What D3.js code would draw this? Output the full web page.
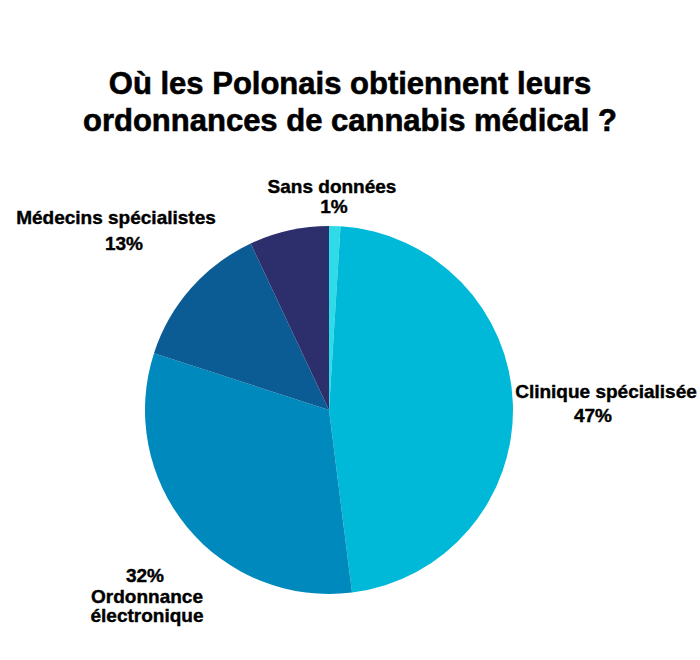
<!DOCTYPE html>
<html><head><meta charset="utf-8">
<script src="https://cdn.jsdelivr.net/npm/d3@7"></script>
<style>body{margin:0;background:#fff}svg{display:block}</style>
</head><body>
<svg id="c" width="700" height="660"></svg>
<script>
const categories = ["Sans données", "Clinique spécialisée", "Ordonnance électronique", "Médecins spécialistes", "Autre"];
const values = [1, 47, 32, 13, 7];
const colors = ["#30dbe8", "#00b9d9", "#0089bd", "#0b5b95", "#2c2f6c"];
const titleLines = ["Où les Polonais obtiennent leurs", "ordonnances de cannabis médical ?"];

const svg = d3.select("#c");
const font = "'Liberation Sans', Arial, sans-serif";
const cx = 329, cy = 410, r = 184;

svg.append("g").selectAll("text").data(titleLines).join("text")
  .attr("x", 350).attr("y", (d, i) => 94 + i * 37)
  .attr("text-anchor", "middle")
  .style("font-family", font).style("font-weight", "bold").style("font-size", "31px")
  .attr("fill", "#000").attr("stroke", "#000").attr("stroke-width", 0.6).text(d => d);

const pie = d3.pie().sort(null).value(d => d)(values);
const arc = d3.arc().innerRadius(0).outerRadius(r);
svg.append("g").attr("transform", `translate(${cx},${cy})`)
  .selectAll("path").data(pie).join("path")
  .attr("d", arc).attr("fill", (d, i) => colors[i]);

const labels = [
  {lines: [[categories[0], 332, 193], [values[0] + "%", 334, 213]]},
  {lines: [[categories[1], 606, 398], [values[1] + "%", 593, 422]]},
  {lines: [[values[2] + "%", 145, 582], ["Ordonnance", 147, 603], ["électronique", 147, 622]]},
  {lines: [[categories[3], 116, 224], [values[3] + "%", 124, 250]]}
];
const lg = svg.append("g");
labels.forEach(l => l.lines.forEach(([t, x, y]) => {
  lg.append("text").attr("x", x).attr("y", y).attr("text-anchor", "middle")
    .style("font-family", font).style("font-weight", "bold").style("font-size", "19px")
    .attr("fill", "#000").attr("stroke", "#000").attr("stroke-width", 0.4).text(t);
}));
</script>
</body></html>
